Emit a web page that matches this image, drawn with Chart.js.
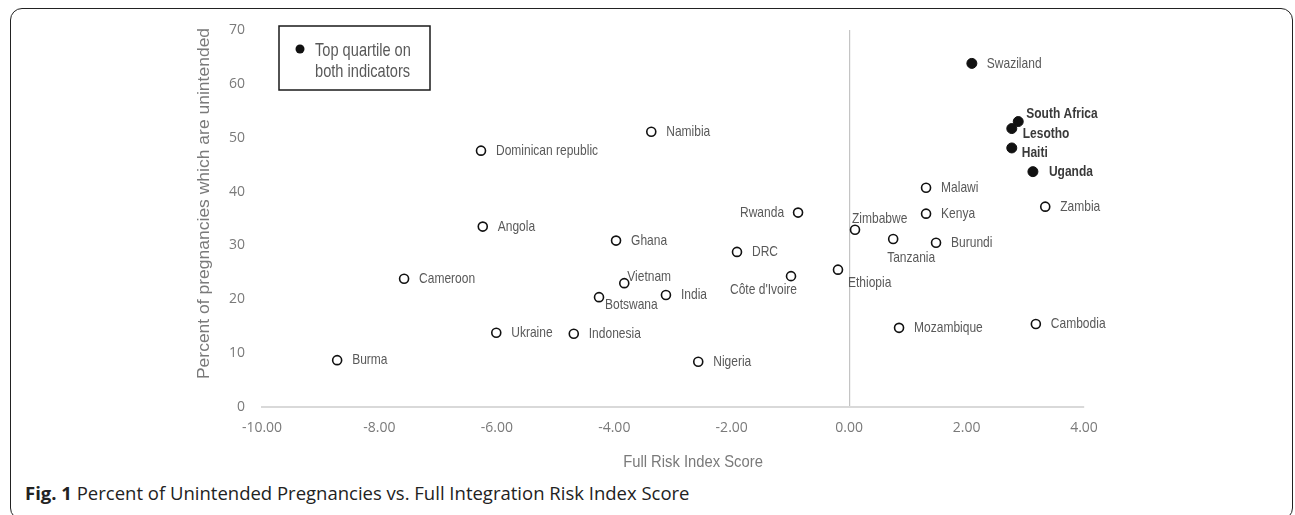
<!DOCTYPE html>
<html>
<head>
  <meta charset="UTF-8">
  <title>Unintended Pregnancies vs. Full Risk Index</title>
  <script src="https://cdn.jsdelivr.net/npm/chart.js"></script>
  <style>
    body {
      margin: 0;
      background: white;
      font-family: "Open Sans", Arial, sans-serif;
    }
    #frame {
      position: absolute;
      left: 10px;
      top: 8px;
      width: 1281px;
      height: 510px;
      border: 1.5px solid #222;
      border-radius: 12px;
    }
    #plot {
      position: absolute;
      left: 0;
      top: 0;
    }
    #caption {
      position: absolute;
      left: 25px;
      top: 480px;
      font-size: 18.5px;
      color: #222;
      white-space: nowrap;
    }
    #caption b {
      font-weight: bold;
    }
  </style>
</head>
<body>
  <div id="frame"></div>
  <canvas id="plot" width="1295" height="476"></canvas>
  <div id="caption"><b>Fig. 1</b> Percent of Unintended Pregnancies vs. Full Integration Risk Index Score</div>

  <script>
  // Data
  const countries = ['Burma', 'Cameroon', 'Dominican republic', 'Angola', 'Ukraine', 'Indonesia',
    'Botswana', 'Vietnam', 'Ghana', 'Namibia', 'India', 'Nigeria', 'DRC', 'Côte d\'Ivoire', 'Rwanda',
    'Ethiopia', 'Zimbabwe', 'Tanzania', 'Mozambique', 'Malawi', 'Kenya', 'Burundi', 'Zambia',
    'Cambodia', 'Swaziland', 'South Africa', 'Lesotho', 'Haiti', 'Uganda'];
  const riskScore = [-8.72, -7.58, -6.27, -6.24, -6.01, -4.69,
    -4.26, -3.83, -3.97, -3.37, -3.12, -2.57, -1.91, -0.99, -0.87,
    -0.19, 0.10, 0.75, 0.85, 1.31, 1.31, 1.48, 3.34,
    3.18, 2.09, 2.88, 2.77, 2.77, 3.13];
  const unintendedPct = [8.7, 23.8, 47.6, 33.5, 13.8, 13.6,
    20.4, 23.0, 30.9, 51.1, 20.8, 8.4, 28.8, 24.3, 36.1,
    25.5, 32.9, 31.2, 14.7, 40.7, 35.9, 30.5, 37.2,
    15.4, 63.8, 53.0, 51.7, 48.1, 43.7];
  const topQuartile = ['Swaziland', 'South Africa', 'Lesotho', 'Haiti', 'Uganda'];
  const boldLabels = ['South Africa', 'Lesotho', 'Haiti', 'Uganda'];

  const xTicks = [-10, -8, -6, -4, -2, 0, 2, 4];
  const yTicks = [0, 10, 20, 30, 40, 50, 60, 70];

  const xTitle = 'Full Risk Index Score';
  const yTitle = 'Percent of pregnancies which are unintended';
  const legendText = ['Top quartile on', 'both indicators'];

  // where each country label sits relative to its marker (default: right of it)
  const labelPlacement = {
    'Rwanda': { dx: -14, dy: 0, align: 'right' },
    'Zimbabwe': { dx: -3, dy: -11 },
    'Tanzania': { dx: -6, dy: 19 },
    'Vietnam': { dx: 3, dy: -6 },
    'Botswana': { dx: 6, dy: 8 },
    'Côte d\'Ivoire': { dx: 6, dy: 14, align: 'right' },
    'Ethiopia': { dx: 10, dy: 13 },
    'South Africa': { dx: 8, dy: -8 },
    'Lesotho': { dx: 11, dy: 5 },
    'Haiti': { dx: 10, dy: 5 },
    'Uganda': { dx: 16, dy: 0 }
  };

  const sans = "'Liberation Sans', Arial, sans-serif";

  // The original figure's Arial text is squeezed sideways; fake it with a scale
  function squeezedText(ctx, text, x, y, opts) {
    ctx.save();
    ctx.font = opts.font;
    ctx.fillStyle = opts.color;
    ctx.textAlign = opts.align || 'left';
    ctx.textBaseline = 'middle';
    ctx.translate(x, y);
    if (opts.rotate) ctx.rotate(opts.rotate);
    ctx.scale(opts.sx || 1, opts.sy || 1);
    ctx.fillText(text, 0, 0);
    ctx.restore();
  }

  // Split points into the two groups
  const openPts = [];
  const filledPts = [];
  countries.forEach((c, i) => {
    const p = { x: riskScore[i], y: unintendedPct[i], name: c };
    if (topQuartile.includes(c)) filledPts.push(p); else openPts.push(p);
  });

  // Country labels next to each marker
  const pointLabels = {
    id: 'pointLabels',
    afterDatasetsDraw(chart) {
      const ctx = chart.ctx;
      chart.data.datasets.forEach((ds, di) => {
        const meta = chart.getDatasetMeta(di);
        meta.data.forEach((el, i) => {
          const name = ds.data[i].name;
          const pl = Object.assign({ dx: 15, dy: 0, align: 'left' }, labelPlacement[name] || {});
          const bold = boldLabels.includes(name);
          squeezedText(ctx, name, el.x + pl.dx, el.y + pl.dy, {
            font: (bold ? 'bold ' : '') + '15px ' + sans,
            color: bold ? '#3a3a3a' : '#595959',
            align: pl.align,
            sx: 0.8
          });
        });
      });
    }
  };

  // Axis titles plus the boxed legend inside the plot
  const extras = {
    id: 'extras',
    afterDraw(chart) {
      const ctx = chart.ctx;
      const a = chart.chartArea;

      squeezedText(ctx, xTitle, (a.left + a.right) / 2 + 20, 462, {
        font: '17px ' + sans, color: '#7a7a7a', align: 'center', sx: 0.87
      });
      squeezedText(ctx, yTitle, 205, (a.top + a.bottom) / 2 - 15, {
        font: '17.5px ' + sans, color: '#7a7a7a', align: 'center',
        rotate: -Math.PI / 2, sy: 0.9
      });

      const bx = a.left + 17, by = a.top - 4, bw = 151, bh = 64;
      ctx.save();
      ctx.strokeStyle = '#1a1a1a';
      ctx.lineWidth = 1.5;
      ctx.strokeRect(bx, by, bw, bh);
      ctx.fillStyle = '#111';
      ctx.beginPath();
      ctx.arc(bx + 21, by + 23, 4.5, 0, Math.PI * 2);
      ctx.fill();
      ctx.restore();
      squeezedText(ctx, legendText[0], bx + 36, by + 25, { font: '18.5px ' + sans, color: '#595959', sx: 0.79 });
      squeezedText(ctx, legendText[1], bx + 36, by + 46, { font: '18.5px ' + sans, color: '#595959', sx: 0.79 });
    }
  };

  const chart = new Chart(document.getElementById('plot'), {
    type: 'scatter',
    data: {
      datasets: [
        {
          label: 'Other countries',
          data: openPts,
          pointRadius: 4.5,
          pointHoverRadius: 4.5,
          pointBackgroundColor: 'white',
          pointBorderColor: '#111',
          pointBorderWidth: 1.6
        },
        {
          label: legendText.join(' '),
          data: filledPts,
          pointRadius: 5,
          pointHoverRadius: 5,
          pointBackgroundColor: '#111',
          pointBorderColor: '#111',
          pointBorderWidth: 1
        }
      ]
    },
    options: {
      responsive: false,
      animation: false,
      devicePixelRatio: 1,
      layout: { padding: { left: 191, right: 211, top: 30, bottom: 0 } },
      plugins: {
        legend: { display: false },
        tooltip: { enabled: false }
      },
      scales: {
        x: {
          type: 'linear',
          min: -10,
          max: 4,
          afterFit(scale) { scale.height = 69; },
          afterBuildTicks(scale) { scale.ticks = xTicks.map(v => ({ value: v })); },
          ticks: {
            padding: 13,
            color: '#7a7a7a',
            font: { family: "'Open Sans', sans-serif", size: 14 },
            callback: v => v.toFixed(2)
          },
          grid: {
            drawTicks: false,
            color: c => (c.tick && c.tick.value === 0) ? '#c4c4c4' : 'rgba(0,0,0,0)',
            lineWidth: 1.2
          },
          border: { display: true, color: '#d9d9d9', width: 2 }
        },
        y: {
          type: 'linear',
          min: 0,
          max: 70,
          afterFit(scale) { scale.width = 71; },
          afterBuildTicks(scale) { scale.ticks = yTicks.map(v => ({ value: v })); },
          ticks: {
            padding: 17,
            color: '#7a7a7a',
            font: { family: "'Open Sans', sans-serif", size: 14 }
          },
          grid: { display: false, drawTicks: false },
          border: { display: false }
        }
      }
    },
    plugins: [pointLabels, extras]
  });
  </script>
</body>
</html>
